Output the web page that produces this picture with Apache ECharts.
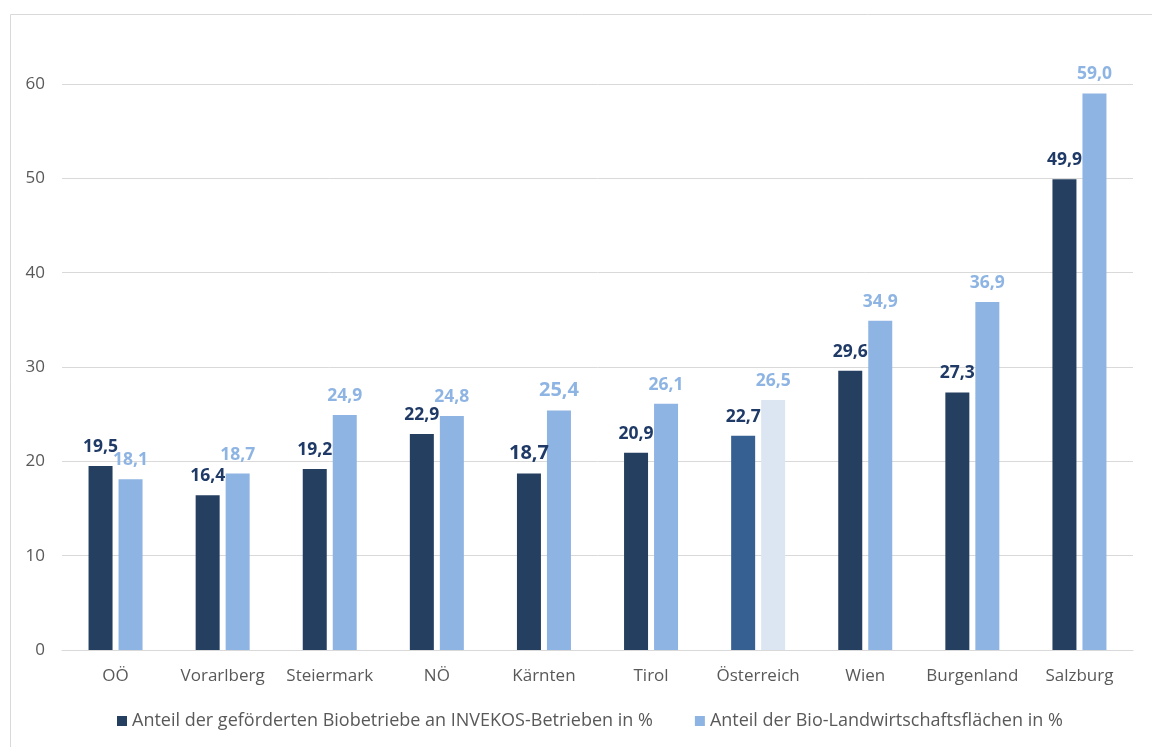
<!DOCTYPE html>
<html>
<head>
<meta charset="utf-8">
<script src="https://cdn.jsdelivr.net/npm/echarts@6/dist/echarts.min.js"></script>
<style>
  html, body { margin: 0; padding: 0; background: #fff; }
  #chart { width: 1152px; height: 747px; }
</style>
</head>
<body>
<div id="chart"></div>
<script>
var categories = ['OÖ', 'Vorarlberg', 'Steiermark', 'NÖ', 'Kärnten', 'Tirol', 'Österreich', 'Wien', 'Burgenland', 'Salzburg'];
var betriebe = [19.5, 16.4, 19.2, 22.9, 18.7, 20.9, 22.7, 29.6, 27.3, 49.9];
var flaechen = [18.1, 18.7, 24.9, 24.8, 25.4, 26.1, 26.5, 34.9, 36.9, 59.0];
var yTicks = [0, 10, 20, 30, 40, 50, 60];
var seriesNames = ['Anteil der geförderten Biobetriebe an INVEKOS-Betrieben in %', 'Anteil der Bio-Landwirtschaftsflächen in %'];

var font = 'Open Sans';
var darkBar = '#253F60';
var lightBar = '#8EB4E3';

function fmt(p) {
	return p.value.toFixed(1).replace('.', ',');
}

// Österreich gets its own colours, Kärnten labels are a bit larger
function buildData(values, austriaColor) {
	return values.map(function(v, i) {
		var item = { value: v };
		if (categories[i] === 'Österreich') {
			item.itemStyle = { color: austriaColor };
		}
		if (categories[i] === 'Kärnten') {
			item.label = { fontSize: 20 };
		}
		return item;
	});
}

var myChart = echarts.init(document.getElementById('chart'));
var option = {
	animation: false,
	textStyle: { fontFamily: font },
	graphic: [{
		type: 'rect',
		left: 8, top: 12,
		shape: { width: 1200, height: 800 },
		style: { fill: 'none', stroke: '#D9D9D9', lineWidth: 1 },
		silent: true
	}],
	legend: {
		bottom: 12,
		left: 112,
		itemWidth: 10,
		itemHeight: 10,
		itemGap: 42,
		icon: 'rect',
		textStyle: { color: '#595959', fontSize: 18, fontFamily: font },
		data: seriesNames
	},
	grid: {
		left: 62,
		right: 19,
		top: 84,
		bottom: 97
	},
	xAxis: {
		type: 'category',
		data: categories,
		axisLine: { lineStyle: { color: '#D9D9D9', width: 1 } },
		axisTick: { show: false },
		axisLabel: { color: '#595959', fontSize: 17, margin: 18, interval: 0, fontFamily: font }
	},
	yAxis: {
		type: 'value',
		min: yTicks[0],
		max: yTicks[yTicks.length - 1],
		interval: 10,
		axisLine: { show: false },
		axisTick: { show: false },
		axisLabel: { color: '#595959', fontSize: 17, margin: 17, fontFamily: font },
		splitLine: { lineStyle: { color: '#D9D9D9', width: 1 } }
	},
	series: [{
		name: seriesNames[0],
		type: 'bar',
		barWidth: 24,
		barGap: '25%',
		itemStyle: { color: darkBar },
		label: {
			show: true,
			position: 'top',
			distance: 10,
			color: '#1F3A66',
			fontWeight: 'bold',
			fontSize: 17.5,
			fontFamily: font,
			formatter: fmt
		},
		data: buildData(betriebe, '#376092')
	}, {
		name: seriesNames[1],
		type: 'bar',
		barWidth: 24,
		itemStyle: { color: lightBar },
		label: {
			show: true,
			position: 'top',
			distance: 10,
			color: '#8EB4E3',
			fontWeight: 'bold',
			fontSize: 17.5,
			fontFamily: font,
			formatter: fmt
		},
		data: buildData(flaechen, '#DCE6F2')
	}]
};
myChart.setOption(option, true);
</script>
</body>
</html>
